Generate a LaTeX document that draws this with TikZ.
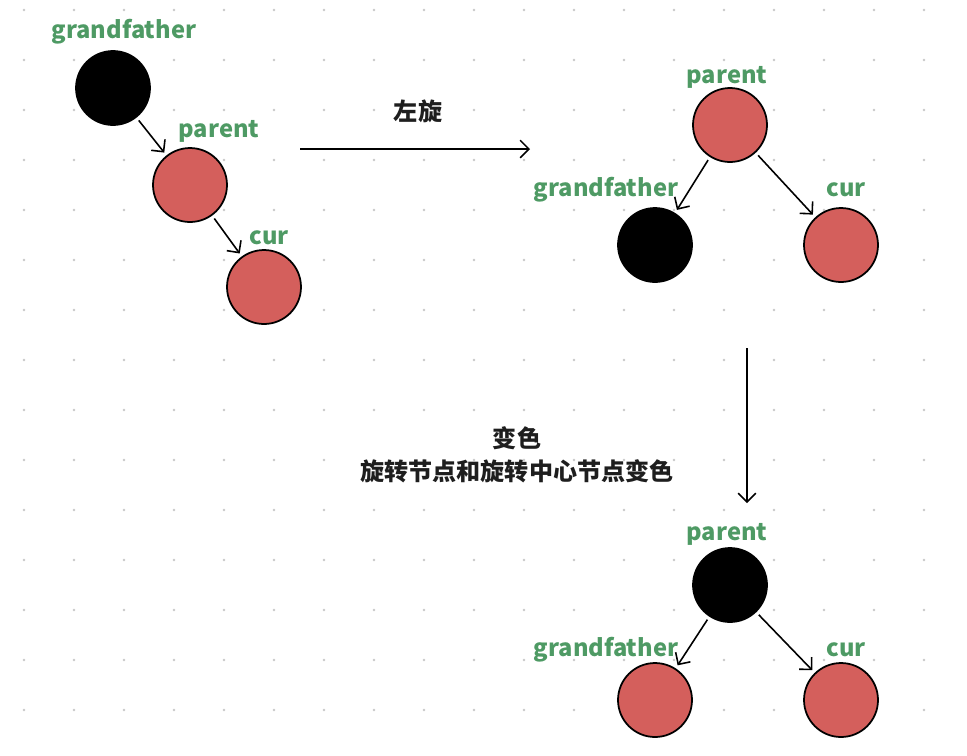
\documentclass[tikz,border=0pt]{standalone}
\usepackage{fontspec}
\setmainfont{Noto Sans CJK SC}
\usetikzlibrary{arrows.meta}
\definecolor{nodered}{HTML}{D45F5C}
\definecolor{taggreen}{HTML}{4E9A64}
\definecolor{notegray}{HTML}{1E1E1E}
\definecolor{dotgray}{HTML}{C8C8C8}

\begin{document}
\begin{tikzpicture}[x=0.02cm,y=-0.02cm,
  rbnode/.style={circle,draw=black,line width=1pt,minimum size=1.48cm,inner sep=0pt},
  rednode/.style={rbnode,fill=nodered},
  blacknode/.style={rbnode,fill=black},
  tag/.style={text=taggreen,font=\bfseries\fontsize{13.5}{16}\selectfont},
  note/.style={text=notegray,font=\bfseries\fontsize{13.7}{18.7}\selectfont,align=center},
  link/.style={-{Straight Barb[length=5pt,width=10pt]},line width=0.9pt,shorten <=2pt,shorten >=2pt}]
 \useasboundingbox (0,0) rectangle (967,755);
 % dot grid
 \foreach \x in {24,74,...,924}
  \foreach \y in {10,60,...,710}
   \fill[dotgray] (\x,\y) circle (0.8pt);

 % before rotation
 \node[blacknode] (gf1) at (113,88) {};
 \node[rednode] (p1) at (190,185) {};
 \node[rednode] (c1) at (264,287) {};
 \node[tag] (gf1tag) at (124,32) {grandfather};
 \node[tag] (p1tag) at (219,131) {parent};
 \node[tag] (c1tag) at (269,238) {cur};
 \draw[link] (gf1) -- (p1);
 \draw[link] (p1) -- (c1);

 % rotate left
 \coordinate (rotA) at (300,149);
 \coordinate (rotB) at (530,149);
 \draw[link,shorten <=0pt,shorten >=0pt] (rotA) -- (rotB);
 \node[note] (rotnote) at (418,111) {左旋};

 % after rotation
 \node[rednode] (p2) at (730,125) {};
 \node[blacknode] (gf2) at (655,245) {};
 \node[rednode] (c2) at (841,245) {};
 \node[tag] (p2tag) at (727,77) {parent};
 \node[tag] (gf2tag) at (606,190) {grandfather};
 \node[tag] (c2tag) at (846,190) {cur};
 \draw[link] (p2) -- (gf2);
 \draw[link] (p2) -- (c2);

 % recolour
 \coordinate (colA) at (747,348);
 \coordinate (colB) at (747,503);
 \draw[link,shorten <=0pt,shorten >=0pt] (colA) -- (colB);
 \node[note] (colnote) at (517,455) {变色\\旋转节点和旋转中心节点变色};

 % after recolour
 \node[blacknode] (p3) at (730,585) {};
 \node[rednode] (gf3) at (655,700) {};
 \node[rednode] (c3) at (841,700) {};
 \node[tag] (p3tag) at (727,534) {parent};
 \node[tag] (gf3tag) at (606,650) {grandfather};
 \node[tag] (c3tag) at (846,650) {cur};
 \draw[link] (p3) -- (gf3);
 \draw[link] (p3) -- (c3);
\end{tikzpicture}
\end{document}
